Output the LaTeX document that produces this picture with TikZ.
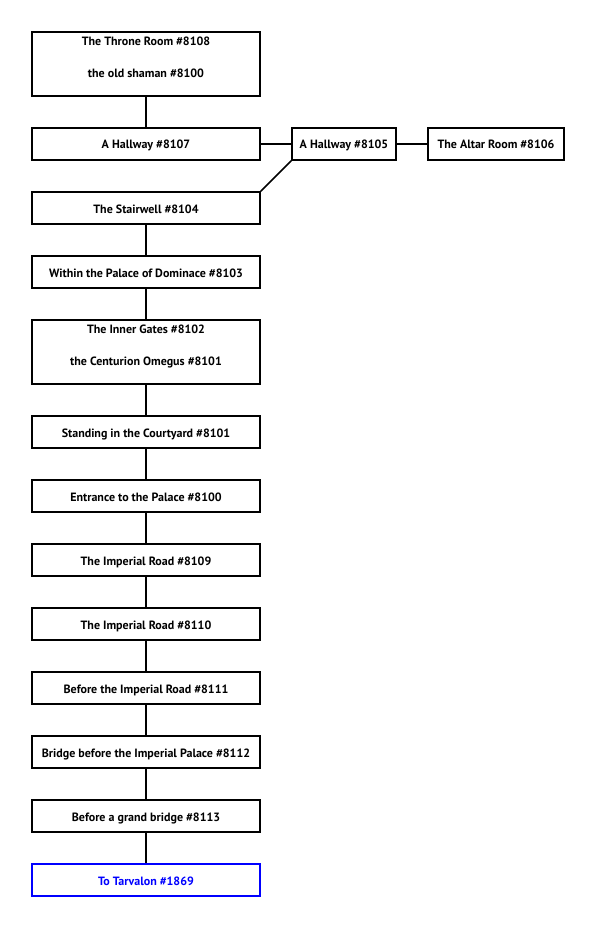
\documentclass[tikz,border=0pt]{standalone}
\usepackage{fontspec}
\usetikzlibrary{calc}
\setmainfont{PT Sans}
\begin{document}
\begin{tikzpicture}[x=1pt,y=-1pt,
  room/.style={draw, line width=1.6pt, rectangle, inner sep=0pt, text height=10pt, text depth=0pt, font=\fontsize{12}{14}\selectfont\bfseries, align=center},
  line/.style={inner sep=0pt, anchor=base, font=\fontsize{12}{14}\selectfont\bfseries},
  link/.style={line width=1.6pt}]
\useasboundingbox (0,0) rectangle (595,928);
\def\rbox#1#2#3#4#5#6{\node[room,#6, minimum width=#3pt-#1pt, minimum height=#4pt-#2pt] (#5) at ({(#1+#3)/2},{(#2+#4)/2})}
\rbox{32}{32}{260}{96}{throne}{}{};
\node[line] (throne1) at ($(throne.north)+(0,14)$) {The Throne Room \#8108};
\node[line] (throne2) at ($(throne.north)+(0,46)$) {the old shaman \#8100};
\rbox{32}{128}{260}{160}{h8107}{}{A Hallway \#8107};
\rbox{292}{128}{396}{160}{h8105}{}{A Hallway \#8105};
\rbox{428}{128}{564}{160}{altar}{}{The Altar Room \#8106};
\rbox{32}{192}{260}{224}{stair}{}{The Stairwell \#8104};
\rbox{32}{256}{260}{288}{within}{}{Within the Palace of Dominace \#8103};
\rbox{32}{320}{260}{384}{inner}{}{};
\node[line] (inner1) at ($(inner.north)+(0,14)$) {The Inner Gates \#8102};
\node[line] (inner2) at ($(inner.north)+(0,46)$) {the Centurion Omegus \#8101};
\rbox{32}{416}{260}{448}{court}{}{Standing in the Courtyard \#8101};
\rbox{32}{480}{260}{512}{entr}{}{Entrance to the Palace \#8100};
\rbox{32}{544}{260}{576}{r8109}{}{The Imperial Road \#8109};
\rbox{32}{608}{260}{640}{r8110}{}{The Imperial Road \#8110};
\rbox{32}{672}{260}{704}{r8111}{}{Before the Imperial Road \#8111};
\rbox{32}{736}{260}{768}{bridge}{}{Bridge before the Imperial Palace \#8112};
\rbox{32}{800}{260}{832}{grand}{}{Before a grand bridge \#8113};
\rbox{32}{864}{260}{896}{tarv}{draw=blue,text=blue}{To Tarvalon \#1869};
\draw[link] (throne) -- (h8107);
\draw[link] (h8107) -- (h8105);
\draw[link] (h8105) -- (altar);
\draw[link] (stair.north east) -- (h8105.south west);
\draw[link] (stair) -- (within);
\draw[link] (within) -- (inner);
\draw[link] (inner) -- (court);
\draw[link] (court) -- (entr);
\draw[link] (entr) -- (r8109);
\draw[link] (r8109) -- (r8110);
\draw[link] (r8110) -- (r8111);
\draw[link] (r8111) -- (bridge);
\draw[link] (bridge) -- (grand);
\draw[link] (grand) -- (tarv);
\end{tikzpicture}
\end{document}
